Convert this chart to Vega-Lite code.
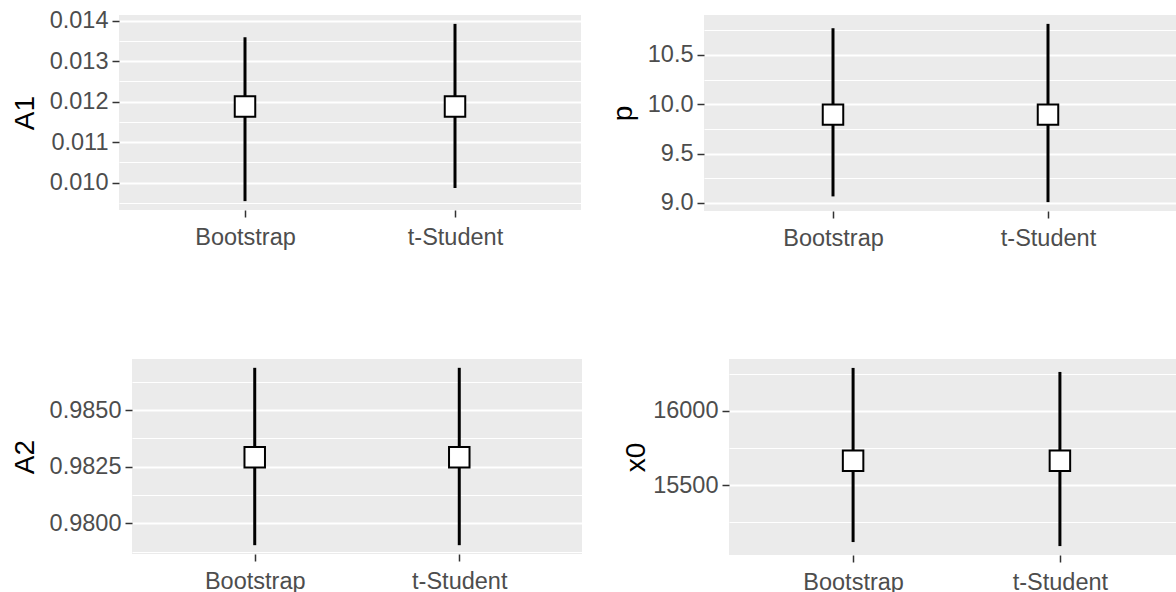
{
  "$schema": "https://vega.github.io/schema/vega-lite/v6.json",
  "background": "white",
  "padding": {"left": -20, "top": 8, "right": 0, "bottom": 0},
  "datasets": {
    "ci": [
      {"param": "A1", "method": "Bootstrap", "est": 0.01188, "lo": 0.009546, "hi": 0.01359},
      {"param": "A1", "method": "t-Student", "est": 0.01188, "lo": 0.00987, "hi": 0.01392},
      {"param": "p", "method": "Bootstrap", "est": 9.895, "lo": 9.066, "hi": 10.771},
      {"param": "p", "method": "t-Student", "est": 9.895, "lo": 9.008, "hi": 10.815},
      {"param": "A2", "method": "Bootstrap", "est": 0.98292, "lo": 0.97903, "hi": 0.98687},
      {"param": "A2", "method": "t-Student", "est": 0.98292, "lo": 0.97903, "hi": 0.98687},
      {"param": "x0", "method": "Bootstrap", "est": 15664, "lo": 15118, "hi": 16289},
      {"param": "x0", "method": "t-Student", "est": 15664, "lo": 15091, "hi": 16262}
    ]
  },
  "config": {
    "font": "Liberation Sans",
    "view": {"fill": "#EBEBEB", "stroke": null},
    "axis": {
      "domain": false,
      "tickColor": "#333333",
      "tickSize": 7,
      "tickWidth": 1.5,
      "tickCount": 30,
      "labelColor": "#4D4D4D",
      "labelFontSize": 23.5,
      "labelPadding": 4,
      "gridColor": "white",
      "gridWidth": 2,
      "titleColor": "black",
      "titleFontSize": 28,
      "titleFontWeight": "normal",
      "labelOverlap": false,
      "labelFlush": false,
      "minExtent": 0
    },
    "axisX": {"labelAngle": 0, "labelPadding": 8},
    "axisY": {"titlePadding": 10}
  },
  "columns": 3,
  "align": {"row": "all", "column": "none"},
  "spacing": {"row": 108, "column": 28},
  "concat": [
    {
      "width": 1,
      "height": 1,
      "view": {"fill": "white", "stroke": "white"},
      "data": {"values": []},
      "mark": {"type": "point", "opacity": 0},
      "encoding": {}
    },
    {
      "width": 462,
      "height": 195,
      "data": {"name": "ci"},
      "transform": [{"filter": "datum.param === 'A1'"}],
      "encoding": {
        "x": {"field": "method", "type": "nominal", "title": null, "scale": {"type": "point", "padding": 0.6}}
      },
      "layer": [
        {
          "mark": {"type": "rule", "strokeWidth": 3, "color": "black"},
          "encoding": {
            "y": {
              "field": "lo", "type": "quantitative", "title": "A1",
              "scale": {"domain": [0.009327, 0.014139], "nice": false, "zero": false},
              "axis": {
                "values": [0.0095, 0.01, 0.0105, 0.011, 0.0115, 0.012, 0.0125, 0.013, 0.0135, 0.014],
                "labelExpr": "abs(datum.value*1000 - round(datum.value*1000)) > 0.25 ? '' : format(datum.value, '.3f')",
                "gridWidth": {"condition": {"test": "abs(datum.value*1000 - round(datum.value*1000)) > 0.25", "value": 1.2}, "value": 2},
                "tickOpacity": {"condition": {"test": "abs(datum.value*1000 - round(datum.value*1000)) > 0.25", "value": 0}, "value": 1}
              }
            },
            "y2": {"field": "hi"}
          }
        },
        {
          "mark": {"type": "point", "shape": "square", "filled": true, "fill": "white", "stroke": "black", "strokeWidth": 2, "size": 420, "opacity": 1},
          "encoding": {"y": {"field": "est", "type": "quantitative", "title": "A1"}}
        }
      ]
    },
    {
      "width": 473,
      "height": 196,
      "data": {"name": "ci"},
      "transform": [{"filter": "datum.param === 'p'"}],
      "encoding": {
        "x": {"field": "method", "type": "nominal", "title": null, "scale": {"type": "point", "padding": 0.6}}
      },
      "layer": [
        {
          "mark": {"type": "rule", "strokeWidth": 3, "color": "black"},
          "encoding": {
            "y": {
              "field": "lo", "type": "quantitative", "title": "p",
              "scale": {"domain": [8.918, 10.905], "nice": false, "zero": false},
              "axis": {
                "values": [9, 9.25, 9.5, 9.75, 10, 10.25, 10.5, 10.75],
                "labelExpr": "abs(datum.value*2 - round(datum.value*2)) > 0.25 ? '' : format(datum.value, '.1f')",
                "gridWidth": {"condition": {"test": "abs(datum.value*2 - round(datum.value*2)) > 0.25", "value": 1.2}, "value": 2},
                "tickOpacity": {"condition": {"test": "abs(datum.value*2 - round(datum.value*2)) > 0.25", "value": 0}, "value": 1}
              }
            },
            "y2": {"field": "hi"}
          }
        },
        {
          "mark": {"type": "point", "shape": "square", "filled": true, "fill": "white", "stroke": "black", "strokeWidth": 2, "size": 420, "opacity": 1},
          "encoding": {"y": {"field": "est", "type": "quantitative", "title": "p"}}
        }
      ]
    },
    {
      "width": 1,
      "height": 1,
      "view": {"fill": "white", "stroke": "white"},
      "data": {"values": []},
      "mark": {"type": "point", "opacity": 0},
      "encoding": {}
    },
    {
      "width": 450,
      "height": 195,
      "data": {"name": "ci"},
      "transform": [{"filter": "datum.param === 'A2'"}],
      "encoding": {
        "x": {"field": "method", "type": "nominal", "title": null, "scale": {"type": "point", "padding": 0.6}}
      },
      "layer": [
        {
          "mark": {"type": "rule", "strokeWidth": 3, "color": "black"},
          "encoding": {
            "y": {
              "field": "lo", "type": "quantitative", "title": "A2",
              "scale": {"domain": [0.97864, 0.98726], "nice": false, "zero": false},
              "axis": {
                "values": [0.97875, 0.98, 0.98125, 0.9825, 0.98375, 0.985, 0.98625],
                "labelExpr": "abs(datum.value*400 - round(datum.value*400)) > 0.25 ? '' : format(datum.value, '.4f')",
                "gridWidth": {"condition": {"test": "abs(datum.value*400 - round(datum.value*400)) > 0.25", "value": 1.2}, "value": 2},
                "tickOpacity": {"condition": {"test": "abs(datum.value*400 - round(datum.value*400)) > 0.25", "value": 0}, "value": 1}
              }
            },
            "y2": {"field": "hi"}
          }
        },
        {
          "mark": {"type": "point", "shape": "square", "filled": true, "fill": "white", "stroke": "black", "strokeWidth": 2, "size": 420, "opacity": 1},
          "encoding": {"y": {"field": "est", "type": "quantitative", "title": "A2"}}
        }
      ]
    },
    {
      "width": 455,
      "height": 196,
      "data": {"name": "ci"},
      "transform": [{"filter": "datum.param === 'x0'"}],
      "encoding": {
        "x": {"field": "method", "type": "nominal", "title": null, "scale": {"type": "point", "padding": 0.6}}
      },
      "layer": [
        {
          "mark": {"type": "rule", "strokeWidth": 3, "color": "black"},
          "encoding": {
            "y": {
              "field": "lo", "type": "quantitative", "title": "x0",
              "scale": {"domain": [15031, 16349], "nice": false, "zero": false},
              "axis": {
                "titlePadding": 2,
                "values": [15250, 15500, 15750, 16000, 16250],
                "labelExpr": "abs(datum.value*0.002 - round(datum.value*0.002)) > 0.25 ? '' : format(datum.value, 'd')",
                "gridWidth": {"condition": {"test": "abs(datum.value*0.002 - round(datum.value*0.002)) > 0.25", "value": 1.2}, "value": 2},
                "tickOpacity": {"condition": {"test": "abs(datum.value*0.002 - round(datum.value*0.002)) > 0.25", "value": 0}, "value": 1}
              }
            },
            "y2": {"field": "hi"}
          }
        },
        {
          "mark": {"type": "point", "shape": "square", "filled": true, "fill": "white", "stroke": "black", "strokeWidth": 2, "size": 420, "opacity": 1},
          "encoding": {"y": {"field": "est", "type": "quantitative", "title": "x0"}}
        }
      ]
    }
  ]
}
